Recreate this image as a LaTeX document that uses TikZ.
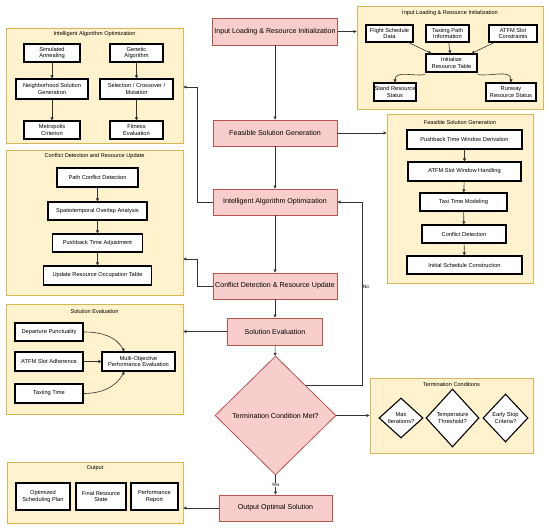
\documentclass[tikz,border=0pt]{standalone}
\usepackage{fontspec}
\setmainfont{Liberation Sans}
\usetikzlibrary{shapes.geometric,arrows.meta}
\definecolor{pinkfill}{HTML}{F8CECC}
\definecolor{pinkline}{HTML}{B85450}
\definecolor{yelfill}{HTML}{FFF2CC}
\definecolor{yelline}{HTML}{D6B656}
\definecolor{conn}{HTML}{333333}
\begin{document}
\begin{tikzpicture}[x=1pt,y=-1pt,
  mainbox/.style={draw=pinkline, fill=pinkfill, line width=0.8pt, inner sep=0pt, align=center, font=\fontsize{7.1}{8.4}\selectfont},
  grpbox/.style={draw=yelline, fill=yelfill, line width=0.8pt, inner sep=0pt},
  grptitle/.style={font=\fontsize{5.6}{6.5}\selectfont, inner sep=0pt},
  sub/.style={draw=black, fill=white, line width=1.1pt, inner sep=0pt, align=center, font=\fontsize{5.7}{6.7}\selectfont},
  subdia/.style={sub, diamond, aspect=1},
  arr/.style={draw=conn, line width=0.6pt, -{Triangle[length=3pt,width=3pt]}},
  lbl/.style={font=\fontsize{4.8}{5.5}\selectfont, inner sep=0.6pt, fill=white},
]
\useasboundingbox (0,0) rectangle (550,532);

% group boxes
\node[grpbox, minimum width=177pt, minimum height=115pt] (iagbox) at (94.5,85.5) {};
\node[grpbox, minimum width=177pt, minimum height=145pt] (cdrbox) at (94.5,222.5) {};
\node[grpbox, minimum width=177pt, minimum height=110pt] (sebox) at (94.5,359) {};
\node[grpbox, minimum width=176pt, minimum height=61pt] (outbox) at (95,492.5) {};
\node[grpbox, minimum width=186pt, minimum height=103pt] (ilbox) at (450,57.5) {};
\node[grpbox, minimum width=146pt, minimum height=169pt] (fsbox) at (460,198.5) {};
\node[grpbox, minimum width=163pt, minimum height=75pt] (tcbox) at (451.5,415.5) {};

\node[grptitle] (iagt) at (94.5,34) {Intelligent Algorithm Optimization};
\node[grptitle] (cdrt) at (94.5,156) {Conflict Detection and Resource Update};
\node[grptitle] (set) at (94.5,311) {Solution Evaluation};
\node[grptitle] (outt) at (95,468) {Output};
\node[grptitle] (ilt) at (450,13) {Input Loading \& Resource Initialization};
\node[grptitle] (fst) at (460,122) {Feasible Solution Generation};
\node[grptitle] (tct) at (451.5,384) {Termination Conditions};

% main flow
\node[mainbox, minimum width=125pt, minimum height=27pt] (inl) at (275,31.5) {Input Loading \& Resource Initialization};
\node[mainbox, minimum width=124pt, minimum height=26pt] (fsg) at (275,133) {Feasible Solution Generation};
\node[mainbox, minimum width=124pt, minimum height=26pt] (iao) at (275,202) {Intelligent Algorithm Optimization};
\node[mainbox, minimum width=124pt, minimum height=26pt] (cdr) at (275,286) {Conflict Detection \& Resource Update};
\node[mainbox, minimum width=95pt, minimum height=27pt] (sev) at (275,331.5) {Solution Evaluation};
\node[mainbox, diamond, aspect=1, minimum width=121pt, minimum height=119pt] (term) at (275.5,415.5) {Termination Condition Met?};
\node[mainbox, minimum width=113pt, minimum height=26pt] (oos) at (275.5,508) {Output Optimal Solution};

% intelligent algorithm subnodes
\node[sub, minimum width=56pt, minimum height=18pt] (sa) at (52,53) {Simulated\\Annealing};
\node[sub, minimum width=53pt, minimum height=18pt] (ga) at (136.5,53) {Genetic\\Algorithm};
\node[sub, minimum width=72pt, minimum height=20pt] (nsg) at (52,89) {Neighborhood Solution\\Generation};
\node[sub, minimum width=73pt, minimum height=20pt] (sel) at (136.5,89) {Selection / Crossover /\\Mutation};
\node[sub, minimum width=56pt, minimum height=18pt] (mc) at (52,130) {Metropolis\\Criterion};
\node[sub, minimum width=53pt, minimum height=18pt] (fe) at (136.5,130) {Fitness\\Evaluation};

% conflict subnodes
\node[sub, minimum width=81pt, minimum height=19pt] (pcd) at (97.5,177.5) {Path Conflict Detection};
\node[sub, minimum width=99pt, minimum height=18pt] (sto) at (97.5,211) {Spatiotemporal Overlap Analysis};
\node[sub, minimum width=90pt, minimum height=18pt] (pta) at (97.5,243) {Pushback Time Adjustment};
\node[sub, minimum width=108pt, minimum height=19pt] (uro) at (97.5,275.5) {Update Resource Occupation Table};

% solution evaluation subnodes
\node[sub, minimum width=68pt, minimum height=18pt] (dp) at (49,332) {Departure Punctuality};
\node[sub, minimum width=68pt, minimum height=19pt] (asa) at (49,361.5) {ATFM Slot Adherence};
\node[sub, minimum width=68pt, minimum height=19pt] (tt) at (49,393.5) {Taxiing Time};
\node[sub, minimum width=73pt, minimum height=19pt] (mope) at (138.5,361.5) {Multi-Objective\\Performance Evaluation};

% output subnodes
\node[sub, minimum width=54pt, minimum height=27pt] (osp) at (43,496.5) {Optimized\\Scheduling Plan};
\node[sub, minimum width=50pt, minimum height=27pt] (frs) at (101,496.5) {Final Resource\\State};
\node[sub, minimum width=47pt, minimum height=27pt] (prp) at (154.5,496.5) {Performance\\Report};

% input loading subnodes
\node[sub, minimum width=47pt, minimum height=17pt] (fsd) at (389.5,33.5) {Flight Schedule\\Data};
\node[sub, minimum width=43pt, minimum height=17pt] (tpi) at (447.5,33.5) {Taxiing Path\\Information};
\node[sub, minimum width=48pt, minimum height=17pt] (asc) at (513,33.5) {ATFM Slot\\Constraints};
\node[sub, minimum width=51pt, minimum height=18pt] (irt) at (451.5,63) {Initialize\\Resource Table};
\node[sub, minimum width=42pt, minimum height=18pt] (srs) at (395,92) {Stand Resource\\Status};
\node[sub, minimum width=50pt, minimum height=18pt] (rrs) at (511,92) {Runway\\Resource Status};

% feasible subnodes
\node[sub, minimum width=115pt, minimum height=19pt] (ptw) at (464.5,139.5) {Pushback Time Window Derivation};
\node[sub, minimum width=113pt, minimum height=19pt] (asw) at (464.5,171.5) {ATFM Slot Window Handling};
\node[sub, minimum width=87pt, minimum height=18pt] (ttm) at (463.5,202) {Taxi Time Modeling};
\node[sub, minimum width=84pt, minimum height=18pt] (cd) at (464,234) {Conflict Detection};
\node[sub, minimum width=115pt, minimum height=18pt] (isc) at (464.5,265) {Initial Schedule Construction};

% termination subnodes
\node[subdia, minimum width=44pt, minimum height=40pt] (mi) at (401,418) {Max\\Iterations?};
\node[subdia, minimum width=53pt, minimum height=58pt] (tth) at (452.5,418) {Temperature\\Threshold?};
\node[subdia, minimum width=45pt, minimum height=48pt] (esc) at (505.5,418) {Early Stop\\Criteria?};

% main flow connectors
\draw[arr] (inl) -- (fsg);
\draw[arr] (fsg) -- (iao);
\draw[arr] (iao) -- (cdr);
\draw[arr] (cdr) -- (sev);
\draw[arr] (sev) -- (term);
\draw[arr] (term) -- node[lbl, pos=0.5] {Yes} (oos);
\coordinate (nox) at (362,0);
\draw[arr] (term.north east) -- (term.north east -| nox) -- (nox |- iao.east) node[lbl, pos=0.54, right, fill=none] {No} -- (iao.east);

% side connectors
\draw[arr] (inl.east) -- (inl.east -| ilbox.west);
\draw[arr] (fsg.east) -- (fsg.east -| fsbox.west);
\draw[arr] (term.east) -- (term.east -| tcbox.west);
\coordinate (iagin) at (0,87);
\draw[arr] (iao.west) -- ++(-15,0) |- (iagbox.east |- iagin);
\coordinate (cdrin) at (0,259);
\draw[arr] (cdr.west) -- ++(-15,0) |- (cdrbox.east |- cdrin);
\draw[arr] (sev.west) -- (sev.west -| sebox.east);
\draw[arr] (oos.west) -- (oos.west -| outbox.east);

% inner connectors
\draw[arr] (sa) -- (nsg);
\draw[arr] (nsg) -- (mc);
\draw[arr] (ga) -- (sel);
\draw[arr] (sel) -- (fe);
\draw[arr] (pcd) -- (sto);
\draw[arr] (sto) -- (pta);
\draw[arr] (pta) -- (uro);
\draw[arr] (dp.east) to[out=0, in=120] ([xshift=-14pt]mope.north);
\draw[arr] (asa) -- (mope);
\draw[arr] (tt.east) to[out=0, in=-120] ([xshift=-14pt]mope.south);
\draw[arr] (fsd) -- (irt);
\draw[arr] (tpi) -- (irt);
\draw[arr] (asc) -- (irt);
\draw[arr] ([yshift=-2pt]irt.south west) to[out=190, in=90] (srs.north);
\draw[arr] ([yshift=-2pt]irt.south east) to[out=-10, in=90] (rrs.north);
\draw[arr] (ptw) -- (asw);
\draw[arr] (asw) -- (ttm);
\draw[arr] (ttm) -- (cd);
\draw[arr] (cd) -- (isc);
\end{tikzpicture}
\end{document}
